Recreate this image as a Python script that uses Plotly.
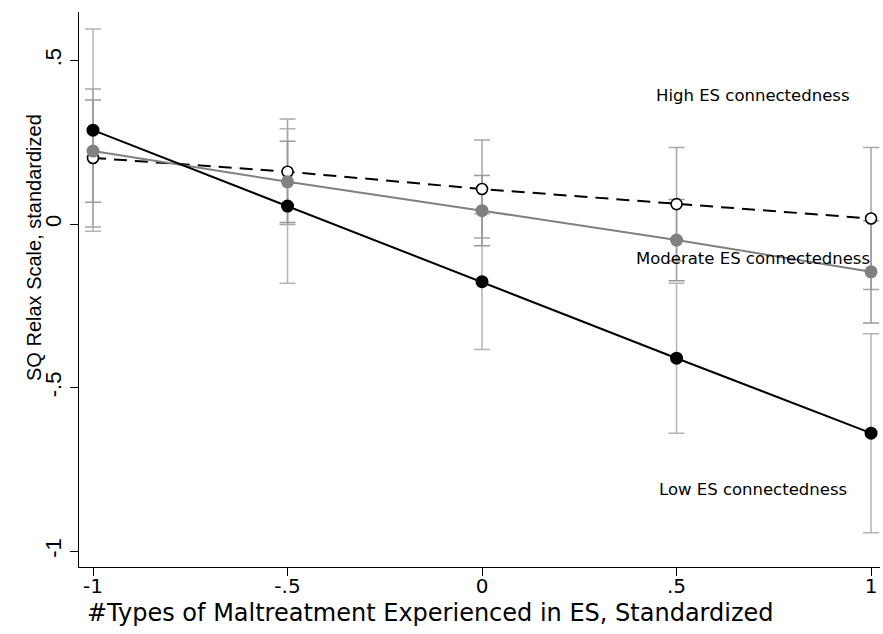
import plotly.graph_objects as go

# Predicted margins of the SQ Relax Scale by ES maltreatment, at three levels of ES connectedness
x_vals = [-1, -0.5, 0, 0.5, 1]
x_ticktext = ["-1", "-.5", "0", ".5", "1"]
y_tickvals = [-1, -0.5, 0, 0.5]
y_ticktext = ["-1", "-.5", "0", ".5"]

low_est = [0.287, 0.055, -0.176, -0.410, -0.639]
low_ci = [0.309, 0.236, 0.207, 0.229, 0.304]

mod_est = [0.223, 0.129, 0.041, -0.049, -0.146]
mod_ci = [0.156, 0.124, 0.107, 0.124, 0.156]

high_est = [0.202, 0.160, 0.107, 0.061, 0.017]
high_ci = [0.211, 0.161, 0.150, 0.173, 0.217]

label_x = 0.697
label_text = ["High ES connectedness", "Moderate ES connectedness", "Low ES connectedness"]
label_y = [0.394, -0.104, -0.81]

x_title = "#Types of Maltreatment Experienced in ES, Standardized"
y_title = "SQ Relax Scale, standardized"

WIDE = "DejaVu Sans, sans-serif"
NARROW = "Arial, Liberation Sans, sans-serif"

fig = go.Figure()

# confidence intervals first, so the lines and markers sit on top
for est, ci, col in [(low_est, low_ci, "#b4b4b4"),
                     (high_est, high_ci, "#a6a6a6"),
                     (mod_est, mod_ci, "#9a9a9a")]:
    fig.add_trace(go.Scatter(
        x=x_vals, y=est, mode="markers",
        marker=dict(size=1, color="rgba(0,0,0,0)"),
        error_y=dict(type="data", array=ci, visible=True, color=col,
                     thickness=1.5, width=8),
        showlegend=False, hoverinfo="skip"))

fig.add_trace(go.Scatter(
    x=x_vals, y=high_est, mode="lines+markers",
    line=dict(color="black", width=2, dash="13px,8px"),
    marker=dict(size=11, color="white", line=dict(color="black", width=1.6)),
    name="High", showlegend=False))

fig.add_trace(go.Scatter(
    x=x_vals, y=mod_est, mode="lines+markers",
    line=dict(color="#808080", width=2),
    marker=dict(size=13, color="#808080"),
    name="Moderate", showlegend=False))

fig.add_trace(go.Scatter(
    x=x_vals, y=low_est, mode="lines+markers",
    line=dict(color="black", width=2),
    marker=dict(size=13, color="black"),
    name="Low", showlegend=False))

for t, yv in zip(label_text, label_y):
    fig.add_annotation(x=label_x, y=yv, text=t, showarrow=False,
                       font=dict(family=WIDE, size=16.5, color="black"),
                       xanchor="center", yanchor="middle")

# axis titles
fig.add_annotation(xref="paper", yref="paper", x=(430 - 79) / 801, y=-46 / 555,
                   text=x_title, showarrow=False, xanchor="center", yanchor="middle",
                   font=dict(family=WIDE, size=24, color="black"))
fig.add_annotation(xref="paper", yref="paper", x=(34 - 79) / 801, y=(567 - 248) / 555,
                   text=y_title, showarrow=False, textangle=-90,
                   xanchor="center", yanchor="middle",
                   font=dict(family=NARROW, size=20, color="black"))

fig.update_layout(
    width=883, height=634,
    margin=dict(l=79, r=3, t=12, b=67),
    paper_bgcolor="white", plot_bgcolor="white",
    font=dict(family=NARROW, color="black"),
    xaxis=dict(
        range=[-1.036, 1.023], tickvals=x_vals, ticktext=x_ticktext,
        showgrid=False, zeroline=False, showline=True, linecolor="black",
        linewidth=1.3, ticks="outside", ticklen=8, tickcolor="black",
        tickwidth=1.3, tickfont=dict(family=WIDE, size=20),
        ticklabelstandoff=-7),
    yaxis=dict(
        range=[-1.048, 0.648], tickvals=y_tickvals, ticktext=y_ticktext,
        tickangle=-90,
        showgrid=False, zeroline=False, showline=True, linecolor="black",
        linewidth=1.3, ticks="outside", ticklen=8, tickcolor="black",
        tickwidth=1.3, tickfont=dict(family=NARROW, size=22)),
)

fig.write_html("out.html")
